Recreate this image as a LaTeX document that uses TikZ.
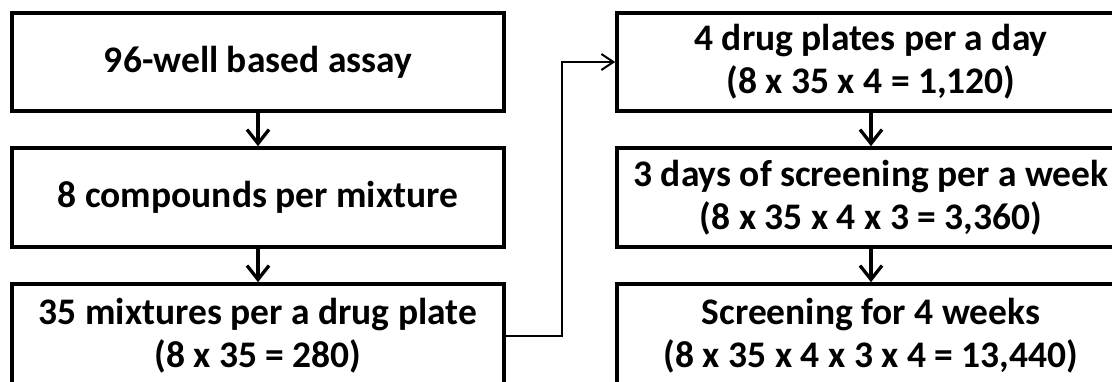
\documentclass[tikz,border=0pt]{standalone}
\usepackage{fontspec}
\setmainfont{Carlito}
\usetikzlibrary{arrows.meta}
\begin{document}
\begin{tikzpicture}[x=1pt,y=-1pt,
  box/.style={draw,line width=3.6pt,align=center,inner sep=0pt,
    font=\fontsize{37.5}{43}\selectfont\bfseries},
  down/.style={line width=3.3pt,-{Straight Barb[length=14pt,width=22pt]}},
  link/.style={line width=2pt,-{Straight Barb[length=12pt,width=16pt]}}]
\useasboundingbox (0,0) rectangle (1112,381);
% left column
\node[box,minimum width=492pt,minimum height=98pt] (assay) at (258,62) {96-well based assay};
\node[box,minimum width=492pt,minimum height=99pt] (mix) at (258,197.5) {8 compounds per mixture};
\node[box,minimum width=492pt,minimum height=104pt] (plate) at (258,336) {35 mixtures per a drug plate\\(8 x 35 = 280)};
\draw[down] (assay) -- (mix);
\draw[down] (mix) -- (plate);
% right column
\node[box,minimum width=508pt,minimum height=98pt] (day) at (871,62) {4 drug plates per a day\\(8 x 35 x 4 = 1,120)};
\node[box,minimum width=508pt,minimum height=99pt] (week) at (871,197.5) {3 days of screening per a week\\(8 x 35 x 4 x 3 = 3,360)};
\node[box,minimum width=508pt,minimum height=104pt] (month) at (871,336) {Screening for 4 weeks\\(8 x 35 x 4 x 3 x 4 = 13,440)};
\draw[down] (day) -- (week);
\draw[down] (week) -- (month);
\draw[link] (plate.east) -- ++(56,0) |- (day.west);
\end{tikzpicture}
\end{document}
